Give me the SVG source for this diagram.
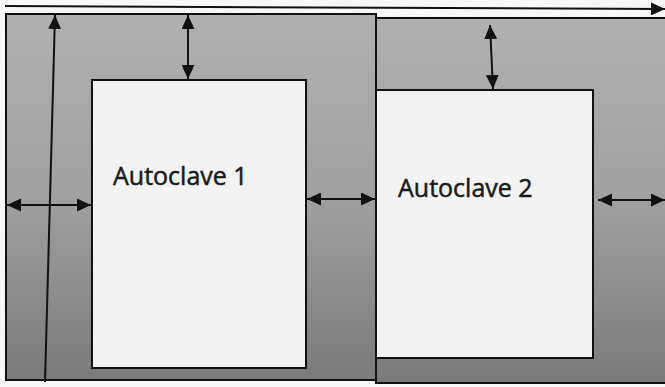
<svg xmlns="http://www.w3.org/2000/svg" width="665" height="387" viewBox="0 0 665 387">
<defs>
<linearGradient id="g" x1="0" y1="0" x2="0" y2="1">
<stop offset="0" stop-color="#b0b0b0"/>
<stop offset="0.5" stop-color="#a0a0a0"/>
<stop offset="1" stop-color="#7a7a7a"/>
</linearGradient>
<marker id="ah" viewBox="0 0 14 13" refX="14" refY="6.5" markerWidth="14" markerHeight="13" markerUnits="userSpaceOnUse" orient="auto-start-reverse">
<path d="M0,0 L14,6.5 L0,13 Z" fill="#111"/>
</marker>
<style>
.room{fill:url(#g);stroke:#111;stroke-width:2}
.box{fill:#f3f3f3;stroke:#111;stroke-width:2}
.lbl{font-family:"Open Sans","Liberation Sans",sans-serif;font-size:25px;fill:#1a1a1a;stroke:#1a1a1a;stroke-width:0.5}
.arr{stroke:#111;stroke-width:2;fill:none;marker-end:url(#ah)}
.dbl{stroke:#111;stroke-width:2;fill:none;marker-start:url(#ah);marker-end:url(#ah)}
</style>
</defs>
<rect width="665" height="387" fill="#f7f7f7"/>
<g id="room2"><rect class="room" x="376" y="18" width="300" height="365"/></g>
<g id="room1"><rect class="room" x="6" y="14" width="370" height="366"/></g>
<g id="autoclave1">
<rect class="box" x="92" y="80" width="214" height="288"/>
<text class="lbl" x="113" y="185">Autoclave 1</text>
</g>
<g id="autoclave2">
<rect class="box" x="376" y="90" width="217" height="268"/>
<text class="lbl" x="398" y="197">Autoclave 2</text>
</g>
<g id="connectors">
<path class="arr" d="M5,6 L665,9"/>
<path class="arr" d="M45,382 L55,15"/>
<path class="dbl" d="M188,15 L188,79"/>
<path class="dbl" d="M490,25 L493,89"/>
<path class="dbl" d="M7,205 L91,205"/>
<path class="dbl" d="M307,199 L375,199"/>
<path class="dbl" d="M598,200 L665,200"/>
</g>
</svg>
